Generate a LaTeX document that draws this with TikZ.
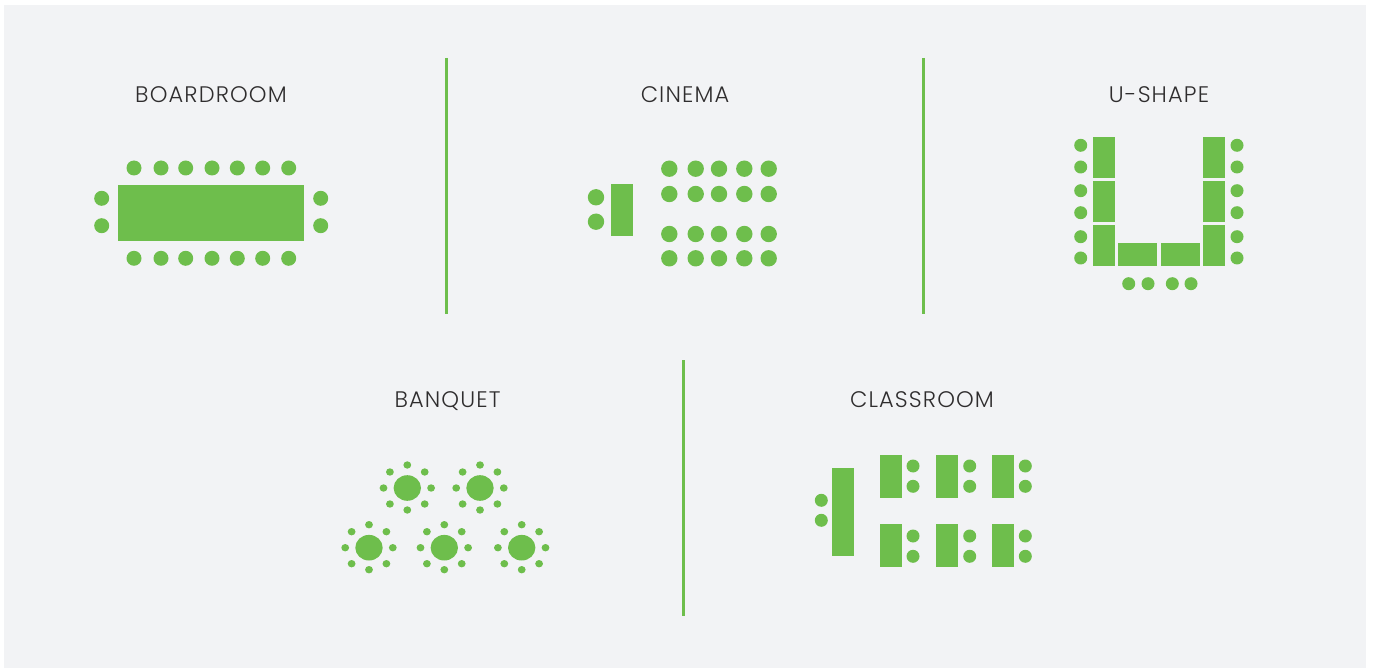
\documentclass[tikz,border=0pt]{standalone}
\usepackage{fontspec}
\setmainfont{Poppins}[UprightFont=* Light,LetterSpace=5]
\definecolor{panelbg}{HTML}{F2F3F5}
\definecolor{seatgreen}{HTML}{6EBE4C}
\definecolor{titleink}{HTML}{2F2D2E}
\tikzset{
  title/.style={text=titleink,font=\fontsize{22.5pt}{26pt}\selectfont,anchor=base,inner sep=0pt},
  divider/.style={draw=seatgreen,line width=2.5pt},
  desk/.style={fill=seatgreen},
  seat/.style={fill=seatgreen}
}
\newcommand{\seatrow}[3]{\foreach \sx in {#3} {\fill[seat] (\sx,#2) circle[radius=#1];}}
\newcommand{\seatcol}[3]{\foreach \sy in {#3} {\fill[seat] (#2,\sy) circle[radius=#1];}}
\newcommand{\banquettable}[2]{%
  \begin{scope}[shift={(#1,#2)}]
    \fill[seat] (0,0) ellipse[x radius=13.7,y radius=12.8];
    \foreach \dx/\dy in {-23.8/0,23.8/0,0/-23,0/22,-17.4/-16,17.4/-16,-17.4/16,17.4/16}
      {\fill[seat] (\dx,\dy) ellipse[x radius=3.9,y radius=3.7];}
  \end{scope}}
\begin{document}
\begin{tikzpicture}[x=1pt,y=-1pt]
\useasboundingbox (0,0) rectangle (1373,668);
\fill[white] (0,0) rectangle (1373,668);
\fill[panelbg] (4,5) rectangle (1366,668);
% titles
\node[title] (tBoard) at (211,102.5) {BOARDROOM};
\node[title] (tCinema) at (685,102.5) {CINEMA};
\node[title] (tU) at (1159,102.5) {U-SHAPE};
\node[title] (tBanquet) at (447.5,407.5) {BANQUET};
\node[title] (tClass) at (922,407.5) {CLASSROOM};
% dividers
\draw[divider] (446.5,58) -- (446.5,314);
\draw[divider] (923.4,58) -- (923.4,314);
\draw[divider] (683.5,360) -- (683.5,616);
% boardroom
\fill[desk] (118,185) rectangle (304,241);
\seatrow{7.5}{168}{134,161,185.7,212,237.3,262.7,288.7}
\seatrow{7.5}{258.3}{134,161,185.7,212,237.3,262.7,288.7}
\seatcol{7.5}{101.7}{198.3,225.7}
\seatcol{7.5}{320.7}{198.3,225.7}
% cinema
\fill[desk] (611,184) rectangle (633,235.7);
\seatcol{8.2}{596}{197.3,221.7}
\foreach \gy in {168.7,194,234,258.3}
  {\seatrow{8.2}{\gy}{669.3,695.7,719,744.3,768.7}}
% u-shape
\foreach \dx in {1093,1203}
  {\foreach \dy/\de in {137/178,181/222,225/266}
    {\fill[desk] (\dx,\dy) rectangle (\dx+22,\de);}}
\fill[desk] (1118,243) rectangle (1157,266);
\fill[desk] (1161,243) rectangle (1200,266);
\seatcol{6.5}{1080.7}{145.3,167,190.7,212.7,236.7,258}
\seatcol{6.5}{1237}{145.3,167,190.7,212.7,236.7,258}
\seatrow{6.5}{283.7}{1128.7,1148,1172.3,1191}
% banquet
\banquettable{407.3}{488}
\banquettable{480}{488}
\banquettable{369}{547.7}
\banquettable{444.3}{547.7}
\banquettable{521.7}{547.7}
% classroom
\fill[desk] (832,468) rectangle (854,556);
\seatcol{6.5}{821.3}{500.3,520.3}
\foreach \dx in {880,936,992}
  {\foreach \dy in {455,524}
    {\fill[desk] (\dx,\dy) rectangle (\dx+22,\dy+43);}}
\foreach \gx in {913,969.7,1025.3}
  {\seatcol{6.5}{\gx}{466,486.3,536,556.3}}
\end{tikzpicture}
\end{document}
